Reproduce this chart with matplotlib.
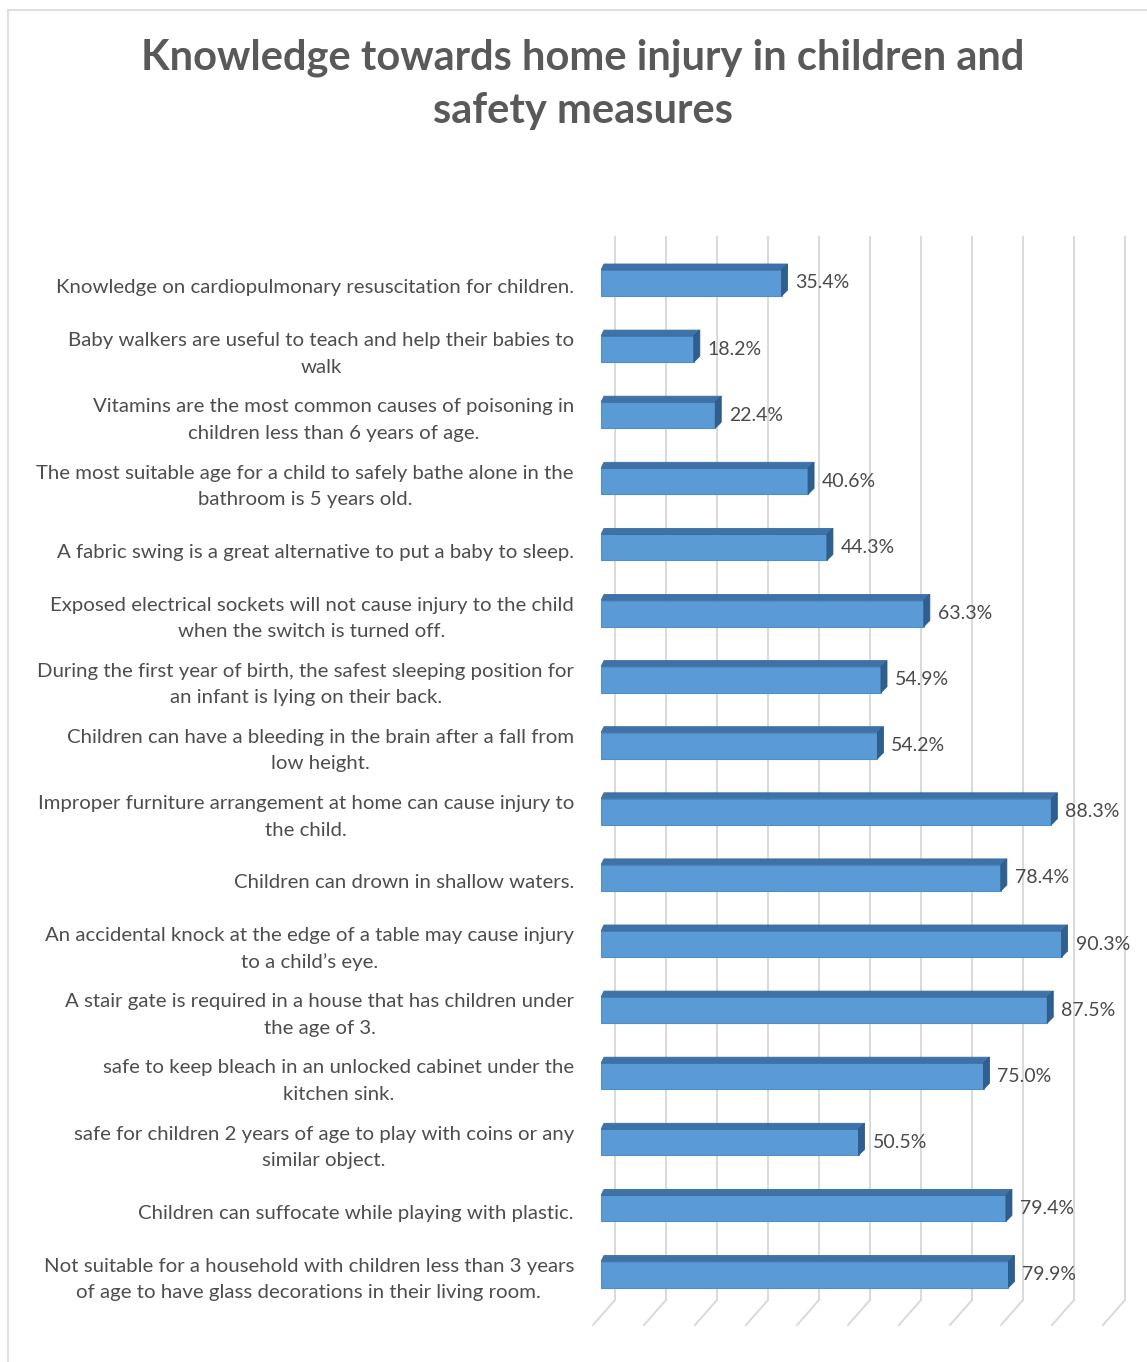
import matplotlib
matplotlib.use("Agg")
import matplotlib.pyplot as plt
from matplotlib.patches import Polygon, Rectangle

categories = [
    "Knowledge on cardiopulmonary resuscitation for children.",
    "Baby walkers are useful to teach and help their babies to\nwalk",
    "Vitamins are the most common causes of poisoning in\nchildren less than 6 years of age.",
    "The most suitable age for a child to safely bathe alone in the\nbathroom is 5 years old.",
    "A fabric swing is a great alternative to put a baby to sleep.",
    "Exposed electrical sockets will not cause injury to the child\nwhen the switch is turned off.",
    "During the first year of birth, the safest sleeping position for\nan infant is lying on their back.",
    "Children can have a bleeding in the brain after a fall from\nlow height.",
    "Improper furniture arrangement at home can cause injury to\nthe child.",
    "Children can drown in shallow waters.",
    "An accidental knock at the edge of a table may cause injury\nto a child\u2019s eye.",
    "A stair gate is required in a house that has children under\nthe age of 3.",
    "safe to keep bleach in an unlocked cabinet under the\nkitchen sink.",
    "safe for children 2 years of age to play with coins or any\nsimilar object.",
    "Children can suffocate while playing with plastic.",
    "Not suitable for a household with children less than 3 years\nof age to have glass decorations in their living room.",
]
values = [35.4, 18.2, 22.4, 40.6, 44.3, 63.3, 54.9, 54.2, 88.3, 78.4, 90.3, 87.5, 75.0, 50.5, 79.4, 79.9]
grid_ticks = list(range(0, 101, 10))
title = "Knowledge towards home injury in children and\nsafety measures"

W, H = 1147, 1362
fig = plt.figure(figsize=(W / 100, H / 100), dpi=100)
fig.patch.set_facecolor("white")

# border
fig.add_artist(Rectangle((8 / W, -0.01), (W + 5) / W, 1 - 10 / H + 0.01, transform=fig.transFigure,
                         fill=False, edgecolor="#d9d9d9", lw=1.2))

PX = 5.1       # pixels per percent
X0 = 601       # pixel of 0 %
ROW0 = 283     # pixel centre of first bar
ROWH = 66.1    # pixels per row
top_px, bot_px = 235, 1335
ax = fig.add_axes([X0 / W, (H - bot_px) / H, (W - X0) / W, (bot_px - top_px) / H])
ax.set_xlim(0, (W - X0) / PX)
ax.set_ylim((bot_px - ROW0) / ROWH, (top_px - ROW0) / ROWH)
ax.axis("off")

def ypx(p):
    return (p - ROW0) / ROWH

# back wall gridlines and floor
back_dx = 14 / PX
for v in grid_ticks:
    bx = v + back_dx
    ax.plot([bx, bx], [ypx(237), ypx(1300)], color="#d9d9d9", lw=1.4, zorder=0, clip_on=False)
    ax.plot([bx, bx - 22 / PX], [ypx(1300), ypx(1325)], color="#d9d9d9", lw=1.4, zorder=0, clip_on=False)

rows = list(range(len(values)))
bh = 26 / ROWH
ddx = 6 / PX
ddy = 6 / ROWH
ax.barh(rows, values, height=bh, left=0, color="#5b9bd5", edgecolor="#4f8fcb", lw=0.8, zorder=3)
for r, v in zip(rows, values):
    yt = r - bh / 2
    yb = r + bh / 2
    ax.add_patch(Polygon([(0, yt), (v, yt), (v + ddx, yt - ddy), (ddx * 0.5, yt - ddy)],
                         closed=True, facecolor="#3f73a8", edgecolor="#3a6ca0", lw=0.6, zorder=4))
    ax.add_patch(Polygon([(v, yt), (v, yb), (v + ddx, yb - ddy), (v + ddx, yt - ddy)],
                         closed=True, facecolor="#2f5f8f", edgecolor="#2b5a88", lw=0.6, zorder=4))
    ax.text(v + 14 / PX, r, f"{v:.1f}%", ha="left", va="center", fontsize=14,
            family="Lato", color="#4a4a4a", zorder=5)

for r, c in zip(rows, categories):
    y = ROW0 + ROWH * r + 5
    fig.text(574 / W, 1 - y / H, c, ha="right", va="center", multialignment="center",
             fontsize=14.7, family="Lato", color="#4d4d4d", linespacing=1.68)

fig.text(583 / W, 1 - 84 / H, title, ha="center", va="center", fontsize=30, weight="bold",
         family="Lato", color="#595959", linespacing=1.48)

fig.savefig("out.png", dpi=100, facecolor="white")
